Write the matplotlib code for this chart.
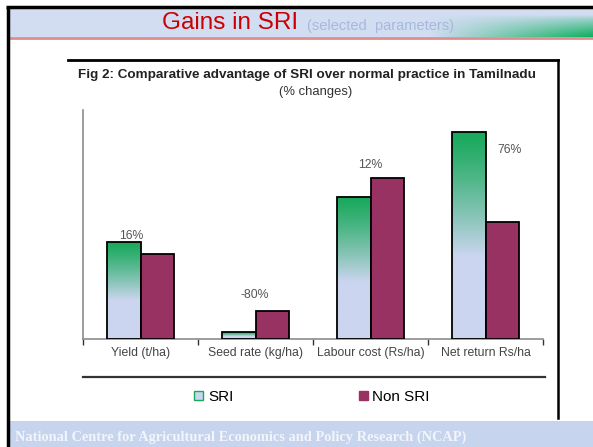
import numpy as np
import matplotlib
matplotlib.use("Agg")
import matplotlib.pyplot as plt
from matplotlib.patches import Patch, Rectangle
from matplotlib.colors import to_rgb

W, H = 593, 447

# data (bar heights, relative scale)
categories = ["Yield (t/ha)", "Seed rate (kg/ha)", "Labour cost (Rs/ha)", "Net return Rs/ha"]
sri = [97, 7, 142, 207]
non_sri = [85, 28, 161, 117]
change_labels = ["16%", "-80%", "12%", "76%"]
label_x = [-0.08, 0.99, 2.0, 3.21]
label_y = [103, 44, 174, 189]

green = to_rgb("#19a95c")
lav = to_rgb("#cbd5ef")
maroon = "#983262"


def px_box(x0, y0, x1, y1):
    # pixel box (top-left origin) -> figure fraction rect
    return [x0 / W, 1 - y1 / H, (x1 - x0) / W, (y1 - y0) / H]


fig = plt.figure(figsize=(W / 100, H / 100), dpi=100)

# slide background / decorations
bg = fig.add_axes([0, 0, 1, 1])
bg.set_xlim(0, W)
bg.set_ylim(H, 0)
bg.axis("off")

# header band: light blue, turning green at the lower right
hx = np.linspace(0, 1, 300)
hy = np.linspace(0, 1, 30)
X, Y = np.meshgrid(hx, hy)
base = np.array(to_rgb("#d2ddf2"))
hg = np.array(to_rgb("#0fb060"))
k = np.clip((X - 0.72) / 0.28, 0, 1) * np.clip((Y - 0.2) / 0.8, 0, 1) ** 0.8
head = base[None, None, :] * (1 - k[..., None]) + hg[None, None, :] * k[..., None]
bg.imshow(head, extent=[9, W, 37, 9], aspect="auto", zorder=1)
bg.plot([9, W], [38, 38], color="#e08c8c", lw=2, zorder=2)

# footer band
bg.add_patch(Rectangle((9, 421), W - 9, H - 421, facecolor="#c6d4ee", edgecolor="none", zorder=1))
bg.text(15, 437, "National Centre for Agricultural Economics and Policy Research (NCAP)",
        family="Liberation Serif", fontweight="bold", fontsize=10.4, color="#f2f5fb",
        va="center", ha="left", zorder=3)

# outer slide border
bg.plot([7.5, 7.5], [7, H], color="black", lw=2.5, zorder=4, solid_capstyle="butt")
bg.plot([6.3, W], [7, 7], color="black", lw=2.5, zorder=4, solid_capstyle="butt")

# header title
bg.text(162, 23, "Gains in SRI", family="Liberation Sans", fontsize=17.5,
        color="#cc0000", va="center", ha="left", zorder=3)
bg.text(307, 26, "(selected  parameters)", family="Liberation Sans", fontsize=10.5,
        color="#a6b9dd", va="center", ha="left", zorder=3)

# chart box (top and right edges)
bg.plot([68, 558], [60, 60], color="black", lw=2, zorder=3)
bg.plot([558, 558], [60, 418], color="black", lw=1.8, zorder=3)

# chart title
bg.text(307, 75, "Fig 2: Comparative advantage of SRI over normal practice in Tamilnadu",
        family="Liberation Sans", fontweight="bold", fontsize=9.7, color="#222222",
        ha="center", va="center", zorder=3)
bg.text(316, 92, "(% changes)", family="Liberation Sans", fontsize=9.4,
        color="#333333", ha="center", va="center", zorder=3)

# legend separator line
bg.plot([83, 545], [377, 377], color="#333333", lw=1.6, zorder=3)

# main plot area
ax = fig.add_axes(px_box(83, 110, 543, 339))
ax.patch.set_alpha(0)
x = np.arange(len(categories))
bw = 0.287

grad_t = np.linspace(0, 1, 200)
mix = np.clip(grad_t / 0.6, 0, 1) ** 1.2
grad = np.array(green)[None, :] * (1 - mix[:, None]) + np.array(lav)[None, :] * mix[:, None]
grad = grad[:, None, :]

for xi, v in zip(x, sri):
    ax.imshow(grad, extent=[xi - bw, xi, 0, v], aspect="auto", zorder=2)
ax.bar(x - bw / 2, sri, width=bw, facecolor="none", edgecolor="black", lw=1.3, zorder=3)
ax.bar(x + bw / 2, non_sri, width=bw, color=maroon, edgecolor="black", lw=1.3, zorder=3)
ax.set_xlim(-0.5, len(categories) - 0.5)
ax.set_ylim(0, 229)

for lx, ly, t in zip(label_x, label_y, change_labels):
    ax.text(lx, ly, t, ha="center", va="center", fontsize=8.8, color="#555555",
            family="Liberation Sans", zorder=4)

for s in ["top", "right"]:
    ax.spines[s].set_visible(False)
ax.spines["left"].set_color("#8c8c8c")
ax.spines["bottom"].set_color("#8c8c8c")
ax.spines["left"].set_linewidth(1.2)
ax.spines["bottom"].set_linewidth(1.2)
ax.set_yticks([])
ax.set_xticks(np.arange(-0.5, len(categories), 1.0))
ax.set_xticklabels([])
ax.tick_params(axis="x", direction="out", length=4, color="#333333", width=1)
for xi, c in zip(x, categories):
    ax.text(xi, -14, c, ha="center", va="center", fontsize=8.8, color="#444444",
            family="Liberation Sans")

handles = [Patch(facecolor=lav, edgecolor=green, label="SRI"),
           Patch(facecolor=maroon, edgecolor=maroon, label="Non SRI")]
fig.legend(handles=handles, loc="center", bbox_to_anchor=(312 / W, 1 - 397 / H),
           ncol=2, frameon=False, prop={"family": "Liberation Sans", "size": 11},
           handlelength=0.6, handleheight=0.6, handletextpad=0.3, columnspacing=8.2)

fig.savefig("out.png", dpi=100)
